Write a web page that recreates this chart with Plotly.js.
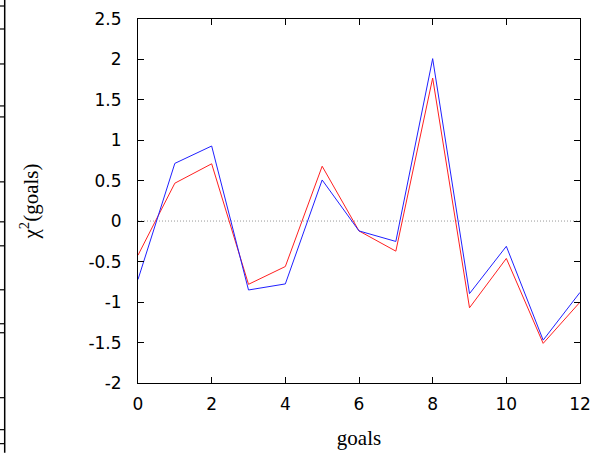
<!DOCTYPE html>
<html>
<head>
<meta charset="utf-8">
<script src="https://cdn.plot.ly/plotly-3.0.1.min.js"></script>
<style>html,body{margin:0;padding:0;background:#fff;}#chart{width:591px;height:453px;}</style>
</head>
<body>
<div id="chart"></div>
<script>
const goals = [0, 1, 2, 3, 4, 5, 6, 7, 8, 9, 10, 11, 12];
const chiRed = [-0.42, 0.47, 0.71, -0.78, -0.56, 0.68, -0.12, -0.37, 1.77, -1.07, -0.46, -1.51, -1.0];
const chiBlue = [-0.72, 0.715, 0.93, -0.85, -0.775, 0.51, -0.12, -0.25, 2.01, -0.895, -0.31, -1.47, -0.88];
const xTicks = [0, 2, 4, 6, 8, 10, 12];
const yTicks = [-2, -1.5, -1, -0.5, 0, 0.5, 1, 1.5, 2, 2.5];
const yTickText = ['-2', '-1.5', '-1', '-0.5', '0', '0.5', '1', '1.5', '2', '2.5'];
// left-edge artifact tick positions (pixel rows)
const edgeTickRows = [6, 29, 64, 106, 117, 182, 222, 246, 290, 324, 333, 398, 430, 444];

const L = 138.3, R = 580.3, T = 19, B = 383.3;
const px2x = p => (p - L) / (R - L);
const py2y = p => (B - p) / (B - T);

const shapes = [
  {type:'line', xref:'paper', yref:'paper', x0:0, x1:1, y0:py2y(221.2), y1:py2y(221.2), layer:'below', line:{color:'#999', width:1, dash:'1px,2px'}},
  {type:'line', xref:'paper', yref:'paper', x0:px2x(5), x1:px2x(5), y0:py2y(0), y1:py2y(453), line:{color:'#000', width:1.5}}
];
edgeTickRows.forEach(r => shapes.push({type:'line', xref:'paper', yref:'paper', x0:px2x(0), x1:px2x(5), y0:py2y(r), y1:py2y(r), line:{color:'#000', width:1.2}}));

const data = [
  {x: goals, y: chiRed, mode:'lines', line:{color:'#ff2020', width:1}, hoverinfo:'skip'},
  {x: goals, y: chiBlue, mode:'lines', line:{color:'#2020ff', width:1}, hoverinfo:'skip'}
];

const layout = {
  width:591, height:453,
  margin:{l:138.3, r:10.7, t:19, b:69.7, pad:0},
  showlegend:false,
  paper_bgcolor:'#fff', plot_bgcolor:'#fff',
  font:{family:'"DejaVu Sans", sans-serif', size:17, color:'#000'},
  xaxis:{range:[0,12], tickvals:xTicks, ticks:'inside', ticklen:6, tickcolor:'#000', tickwidth:1,
         showline:true, linecolor:'#000', linewidth:1, mirror:'allticks', showgrid:false, zeroline:false,
         tickfont:{family:'"DejaVu Sans", sans-serif', size:17}, ticklabelstandoff:6,
         title:{text:'goals', font:{family:'"Liberation Serif", serif', size:21}, standoff:16}},
  yaxis:{range:[-2,2.5], tickvals:yTicks, ticktext:yTickText, ticks:'inside', ticklen:6, tickcolor:'#000', tickwidth:1,
         showline:true, linecolor:'#000', linewidth:1, mirror:'allticks', showgrid:false, zeroline:false,
         tickfont:{family:'"DejaVu Sans", sans-serif', size:17}, ticklabelstandoff:12,
         title:{text:'χ<sup>2</sup>(goals)', font:{family:'"Liberation Serif", serif', size:21}, standoff:44}},
  shapes: shapes
};

Plotly.newPlot('chart', data, layout, {displayModeBar:false, staticPlot:true});
</script>
</body>
</html>
